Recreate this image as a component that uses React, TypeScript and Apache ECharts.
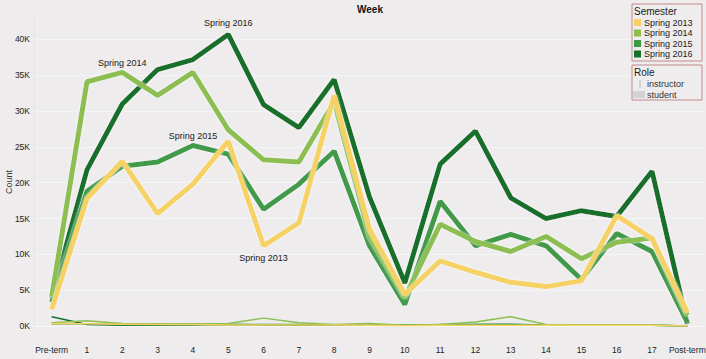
import React, { useEffect, useRef } from "react";
import * as echarts from "echarts";

const weeks = ["Pre-term","1","2","3","4","5","6","7","8","9","10","11","12","13","14","15","16","17","Post-term"];

// student counts (thick lines)
const student2013 = [2300,17800,23000,15700,19800,25800,11200,14400,32200,13500,4400,9100,7500,6100,5500,6300,15400,12200,1900];
const student2014 = [4100,34100,35400,32200,35400,27400,23200,22900,31300,12500,4000,14200,11800,10400,12500,9400,11700,12300,1500];
const student2015 = [3300,18800,22300,22900,25200,24000,16300,19800,24400,11200,3000,17400,11200,12800,11200,6500,12900,10400,500];
const student2016 = [3900,21800,31000,35800,37200,40700,30900,27700,34400,18000,6000,22600,27200,17900,15000,16100,15300,21600,300];

// instructor counts (thin lines)
const instructor2013 = [350,300,250,200,200,150,150,150,150,100,50,100,100,100,100,100,100,100,0];
const instructor2014 = [450,750,350,300,300,350,1100,450,200,350,100,200,550,1300,200,150,150,150,0];
const instructor2015 = [300,300,200,200,250,200,200,200,150,150,100,200,200,250,150,150,150,100,0];
const instructor2016 = [1300,200,100,100,150,200,150,100,100,100,100,150,200,200,100,100,100,100,0];

const semesters = ["Spring 2013","Spring 2014","Spring 2015","Spring 2016"];
const colors = ["#F5D263","#8CBF50","#3F9A47","#16702C"];
const yTicks = [0,5000,10000,15000,20000,25000,30000,35000,40000];

const FONT = "'Liberation Sans',Arial,sans-serif";
const BG = "#EEECED";

function withLabel(arr: number[], idx: number, text: string, pos: string, dist: number) {
  return arr.map((v, i) =>
    i === idx
      ? { value: v, label: { show: true, position: pos, distance: dist, formatter: text, fontFamily: FONT, fontSize: 9, color: "#222" } }
      : v
  );
}

export default function App() {
  const ref = useRef<HTMLDivElement>(null);
  useEffect(() => {
    if (!ref.current) return;
    const chart = echarts.init(ref.current, null, { renderer: "svg" });
    const thick = [student2016, student2015, student2014, student2013];
    const thickIdx = [3, 2, 1, 0];
    const labelInfo: Record<number, [number, string, number]> = {
      0: [6, "bottom", 8],
      1: [2, "top", 5],
      2: [4, "top", 5],
      3: [5, "top", 7],
    };
    const thin = [instructor2016, instructor2015, instructor2014, instructor2013];
    const series: any[] = [];
    thin.forEach((arr, k) => {
      const si = thickIdx[k];
      series.push({
        type: "line",
        name: semesters[si] + " instructor",
        data: arr,
        symbol: "none",
        lineStyle: { width: 1.5, color: colors[si] },
        z: 2,
        silent: true,
      });
    });
    thick.forEach((arr, k) => {
      const si = thickIdx[k];
      const [idx, pos, dist] = labelInfo[si];
      series.push({
        type: "line",
        name: semesters[si],
        data: withLabel(arr, idx, semesters[si], pos, dist),
        symbol: "circle",
        symbolSize: 0,
        showSymbol: true,
        itemStyle: { color: colors[si] },
        label: { show: false },
        lineStyle: { width: 5, color: colors[si], shadowColor: "rgba(255,255,255,0.9)", shadowBlur: 2 },
        z: 3,
        silent: true,
      });
    });

    const gx = 632, gw = 70;
    const graphic: any[] = [
      { type: "rect", shape: { x: gx, y: 4, width: gw, height: 57 }, style: { fill: BG, stroke: "#C48A8E", lineWidth: 1 }, z: 10 },
      { type: "text", x: 634, y: 11, style: { text: "Semester", font: `10px ${FONT}`, fill: "#222", verticalAlign: "middle" }, z: 11 },
      { type: "rect", shape: { x: gx, y: 65, width: gw, height: 35 }, style: { fill: BG, stroke: "#C48A8E", lineWidth: 1 }, z: 10 },
      { type: "text", x: 634, y: 72, style: { text: "Role", font: `10px ${FONT}`, fill: "#222", verticalAlign: "middle" }, z: 11 },
      { type: "rect", shape: { x: 639, y: 80, width: 2, height: 8 }, style: { fill: "#D4D2D3" }, z: 11 },
      { type: "text", x: 647, y: 84, style: { text: "instructor", font: `9px ${FONT}`, fill: "#333", verticalAlign: "middle" }, z: 11 },
      { type: "rect", shape: { x: 633, y: 91, width: 12, height: 7 }, style: { fill: "#D4D2D3" }, z: 11 },
      { type: "text", x: 647, y: 95, style: { text: "student", font: `9px ${FONT}`, fill: "#333", verticalAlign: "middle" }, z: 11 },
      { type: "text", x: 9, y: 182, rotation: Math.PI / 2, style: { text: "Count", font: `9px ${FONT}`, fill: "#333", align: "center", verticalAlign: "middle" }, z: 11 },
    ];
    const ys = [22.5, 33, 43.5, 54];
    semesters.forEach((s, i) => {
      graphic.push({ type: "rect", shape: { x: 634, y: ys[i] - 3.5, width: 7, height: 7 }, style: { fill: colors[i] }, z: 11 });
      graphic.push({ type: "text", x: 644, y: ys[i], style: { text: s, font: `9px ${FONT}`, fill: "#222", verticalAlign: "middle" }, z: 11 });
    });
    graphic.push({ type: "text", x: 370, y: 9, style: { text: "Week", font: `bold 10px ${FONT}`, fill: "#111", align: "center", verticalAlign: "middle" }, z: 11 });

    chart.setOption({
      animation: false,
      backgroundColor: BG,
      grid: { left: 34, right: 1, top: 18, bottom: 33, containLabel: false, outerBoundsMode: "none" },
      xAxis: {
        type: "category",
        data: weeks,
        boundaryGap: true,
        axisLine: { show: true, lineStyle: { color: "#F8F7F8", width: 1 } },
        axisTick: { show: false },
        axisLabel: { fontFamily: FONT, fontSize: 8.5, color: "#222", margin: 19, interval: 0, hideOverlap: false },
        splitLine: { show: false },
      },
      yAxis: {
        type: "value",
        min: 0,
        max: 43000,
        interval: 5000,
        axisLine: { show: true, lineStyle: { color: "#E6E4E5" } },
        axisTick: { show: false },
        axisLabel: {
          fontFamily: FONT,
          fontSize: 8.5,
          color: "#222",
          margin: 4,
          formatter: (v: number) => (yTicks.indexOf(v) >= 0 ? v / 1000 + "K" : ""),
        },
        splitLine: { show: true, showMaxLine: false, lineStyle: { color: "#F6F5F6", width: 1 } },
      },
      series,
      graphic,
    });
    return () => chart.dispose();
  }, []);
  return <div ref={ref} style={{ position: "fixed", left: 0, top: 0, width: 706, height: 359 }} />;
}
